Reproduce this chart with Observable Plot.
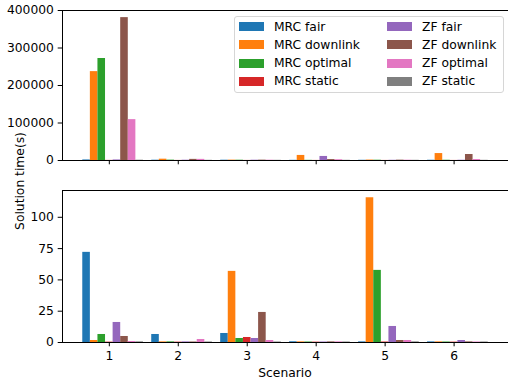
<!DOCTYPE html>
<html>
<head>
<meta charset="utf-8">
<script src="https://cdn.jsdelivr.net/npm/d3@7"></script>
<script src="https://cdn.jsdelivr.net/npm/@observablehq/plot@0.6"></script>
<style>
  body { margin: 0; background: #fff; }
  #wrap { position: relative; width: 508px; height: 383px; overflow: hidden; font-family: "DejaVu Sans", sans-serif; font-size: 12.3px; color: #000; }
  #wrap svg { display: block; }
  #ylabel { position: absolute; left: -80px; top: 174px; width: 200px; text-align: center; line-height: 14px; transform: rotate(-90deg); }
  #xlabel { position: absolute; left: 185px; top: 366px; width: 200px; text-align: center; line-height: 14px; }
  #legend { position: absolute; left: 234px; top: 16px; width: 268px; height: 75px; border: 1px solid #d6d6d6; border-radius: 3px; background: rgba(255,255,255,0.8); }
  .sw { position: absolute; width: 25px; height: 9px; }
  .lt { position: absolute; line-height: 14px; white-space: nowrap; }
</style>
</head>
<body>
<div id="wrap">
  <div id="top"></div>
  <div id="bottom"></div>
  <div id="ylabel">Solution time(s)</div>
  <div id="xlabel">Scenario</div>
  <div id="legend"></div>
</div>
<script>
// ---- data ----
const scenarios = [1, 2, 3, 4, 5, 6];
const seriesNames = ["MRC fair", "MRC downlink", "MRC optimal", "MRC static", "ZF fair", "ZF downlink", "ZF optimal", "ZF static"];
const seriesColors = ["#1f77b4", "#ff7f0e", "#2ca02c", "#d62728", "#9467bd", "#8c564b", "#e377c2", "#7f7f7f"];

// top panel (s)
const topMrcFair     = [1500, 800, 800, 500, 600, 700];
const topMrcDownlink = [237000, 3500, 1000, 13500, 1200, 18500];
const topMrcOptimal  = [272000, 1000, 800, 500, 800, 700];
const topMrcStatic   = [300, 200, 200, 200, 200, 200];
const topZfFair      = [1500, 800, 800, 10800, 600, 700];
const topZfDownlink  = [381000, 3000, 1000, 2500, 1000, 16000];
const topZfOptimal   = [109000, 3000, 800, 2000, 800, 2500];
const topZfStatic    = [800, 500, 500, 500, 500, 500];

// bottom panel (s)
const botMrcFair     = [72, 6.4, 7.2, 0.6, 0.5, 0.5];
const botMrcDownlink = [1.6, 0.5, 56.8, 0.5, 115.6, 0.5];
const botMrcOptimal  = [6.4, 0.5, 3.2, 0.4, 57.6, 0.4];
const botMrcStatic   = [0.3, 0.3, 4.0, 0.3, 0.4, 0.3];
const botZfFair      = [16, 0.5, 3.2, 0.4, 12.8, 1.6];
const botZfDownlink  = [4.8, 0.4, 24, 0.5, 1.6, 0.5];
const botZfOptimal   = [0.8, 2.4, 1.6, 0.5, 1.6, 0.4];
const botZfStatic    = [0.5, 0.4, 0.4, 0.4, 0.5, 0.4];

const topTicks = [0, 100000, 200000, 300000, 400000];
const botTicks = [0, 25, 50, 75, 100];

const topSeries = [topMrcFair, topMrcDownlink, topMrcOptimal, topMrcStatic, topZfFair, topZfDownlink, topZfOptimal, topZfStatic];
const botSeries = [botMrcFair, botMrcDownlink, botMrcOptimal, botMrcStatic, botZfFair, botZfDownlink, botZfOptimal, botZfStatic];

const barW = 0.11;
const xDomain = [0.321, 6.789];

function rows(seriesArrays) {
  const out = [];
  scenarios.forEach((s, si) => {
    seriesArrays.forEach((arr, i) => {
      out.push({scenario: s, series: seriesNames[i], value: arr[si],
        x1: s + (i - 3.5) * barW, x2: s + (i - 2.5) * barW});
    });
  });
  return out;
}

function panel(data, yDomain, yTicks, height, mTop, mBottom, showXLabels) {
  return Plot.plot({
    width: 508, height, marginLeft: 62, marginRight: 0, marginTop: mTop, marginBottom: mBottom,
    x: {domain: xDomain},
    y: {domain: yDomain},
    color: {domain: seriesNames, range: seriesColors},
    style: {fontFamily: "DejaVu Sans, sans-serif", fontSize: "12.3px", color: "#000", background: "#fff", overflow: "visible"},
    marks: [
      Plot.rect(data, {x1: "x1", x2: "x2", y1: 0, y2: "value", fill: "series"}),
      Plot.axisY({ticks: yTicks, tickSize: 4.3, tickPadding: 4.3, tickFormat: d3.format("d"), label: null, stroke: "#000", strokeWidth: 1}),
      Plot.axisX({ticks: scenarios, tickSize: 4.3, tickPadding: 4.3, tickFormat: showXLabels ? d3.format("d") : () => "", label: null, stroke: "#000", strokeWidth: 1}),
      Plot.ruleX([xDomain[0]], {stroke: "#000", strokeWidth: 1}),
      Plot.ruleY([0], {stroke: "#000", strokeWidth: 1}),
      Plot.ruleY([yDomain[1]], {stroke: "#000", strokeWidth: 1})
    ]
  });
}

document.getElementById("top").append(panel(rows(topSeries), [0, 400000], topTicks, 175, 10, 15, false));
document.getElementById("bottom").append(panel(rows(botSeries), [0, 121.4], botTicks, 208, 15, 41, true));

// legend
const legend = document.getElementById("legend");
seriesNames.forEach((name, i) => {
  const col = Math.floor(i / 4), row = i % 4;
  const sw = document.createElement("div");
  sw.className = "sw";
  sw.style.background = seriesColors[i];
  sw.style.left = (4 + col * 148) + "px";
  sw.style.top = (5 + row * 18.3) + "px";
  legend.append(sw);
  const t = document.createElement("div");
  t.className = "lt";
  t.textContent = name;
  t.style.left = (39 + col * 148) + "px";
  t.style.top = (2.5 + row * 18.3) + "px";
  legend.append(t);
});
</script>
</body>
</html>
